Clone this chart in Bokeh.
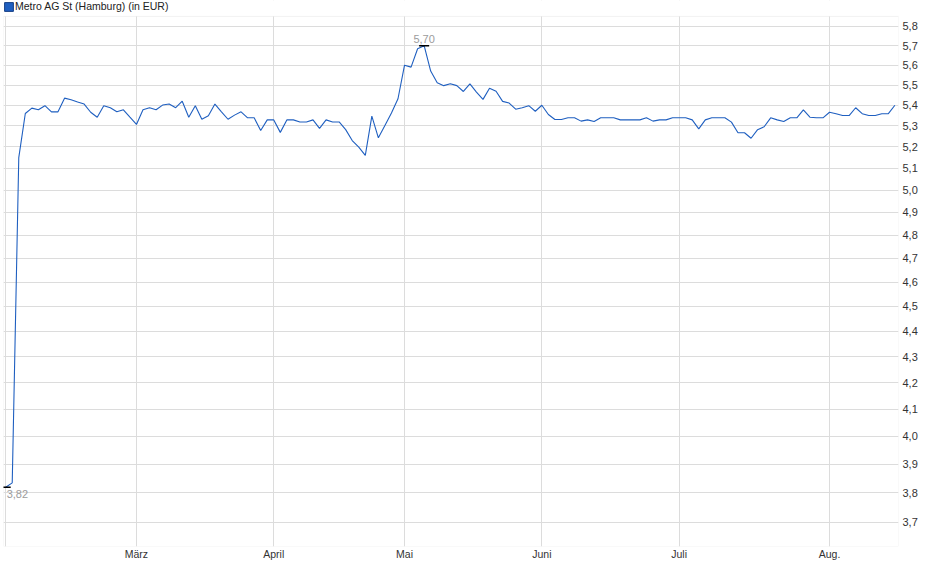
import numpy as np
from bokeh.plotting import figure
from bokeh.models import (FixedTicker, CustomJSTickFormatter, Range1d, ColumnDataSource,
                          Legend, LegendItem, BoxAnnotation)
from bokeh.embed import file_html
from bokeh.resources import INLINE
from bokeh.core.properties import value

# ---- data (trading-day index 0 = first day shown) ----
series_name = "Metro AG St (Hamburg) (in EUR)"
prices = [
    3.82, 3.835, 5.15, 5.36, 5.386, 5.378, 5.398, 5.368, 5.368, 5.435,
    5.427, 5.416, 5.406, 5.366, 5.342, 5.398, 5.388, 5.368, 5.378, 5.342,
    5.307, 5.378, 5.388, 5.378, 5.401, 5.406, 5.388, 5.42, 5.342, 5.398,
    5.332, 5.349, 5.406, 5.368, 5.332, 5.352, 5.368, 5.339, 5.339, 5.278,
    5.329, 5.329, 5.269, 5.329, 5.329, 5.319, 5.319, 5.329, 5.288, 5.329,
    5.319, 5.319, 5.282, 5.23, 5.199, 5.16, 5.347, 5.243, 5.302, 5.362,
    5.432, 5.60, 5.59, 5.684, 5.70, 5.57, 5.511, 5.497, 5.506, 5.497,
    5.468, 5.506, 5.465, 5.429, 5.484, 5.469, 5.419, 5.411, 5.381, 5.388,
    5.398, 5.371, 5.40, 5.355, 5.331, 5.331, 5.339, 5.339, 5.323, 5.329,
    5.321, 5.339, 5.339, 5.339, 5.329, 5.329, 5.329, 5.329, 5.339, 5.323,
    5.329, 5.329, 5.339, 5.339, 5.339, 5.329, 5.286, 5.329, 5.339, 5.339,
    5.339, 5.318, 5.267, 5.267, 5.241, 5.282, 5.296, 5.339, 5.329, 5.321,
    5.339, 5.339, 5.378, 5.342, 5.339, 5.339, 5.366, 5.359, 5.35, 5.35,
    5.388, 5.359, 5.35, 5.35, 5.359, 5.359, 5.40,
]
month_labels = ["März", "April", "Mai", "Juni", "Juli", "Aug."]
month_start_index = [20, 41, 61, 82, 103, 126]
y_tick_values = [3.7, 3.8, 3.9, 4.0, 4.1, 4.2, 4.3, 4.4, 4.5, 4.6, 4.7,
                 4.8, 4.9, 5.0, 5.1, 5.2, 5.3, 5.4, 5.5, 5.6, 5.7, 5.8]

idx = list(range(len(prices)))
src = ColumnDataSource(dict(x=idx, y=prices))

FONT = "Liberation Sans"
LINE_COLOR = "#1f5fc0"
GRID = "#dcdcdc"
BORDER = "#d4d4d4"

Y_BOTTOM, Y_TOP = 3.620, 5.938     # whole frame (legend strip on top)
Y_PLOT_TOP = 5.853                 # visible top edge of plotting area

p = figure(width=924, height=563, output_backend="svg", toolbar_location=None,
           y_axis_type="log", y_axis_location="right",
           x_range=Range1d(-0.336, 136.55), y_range=Range1d(Y_BOTTOM, Y_TOP),
           min_border_left=3, min_border_top=0, min_border_right=26,
           min_border_bottom=17, background_fill_color="white",
           border_fill_color="white")
p.outline_line_color = None

# axes
yax = p.yaxis[0]
yax.ticker = FixedTicker(ticks=y_tick_values)
yax.formatter = CustomJSTickFormatter(code="return tick.toFixed(1).replace('.', ',');")
yax.axis_line_color = None
yax.major_tick_line_color = None
yax.minor_tick_line_color = None
yax.major_tick_out = 0
yax.major_tick_in = 0
yax.minor_tick_out = 0
yax.major_label_standoff = 4
yax.major_label_text_font = FONT
yax.major_label_text_font_size = "11px"
yax.major_label_text_color = "#333333"

xax = p.xaxis[0]
xax.ticker = FixedTicker(ticks=[0] + month_start_index)
overrides = {0: ""}
for i, lab in zip(month_start_index, month_labels):
    overrides[i] = lab
xax.major_label_overrides = overrides
xax.axis_line_color = None
xax.major_tick_line_color = None
xax.minor_tick_line_color = None
xax.major_tick_out = 0
xax.major_tick_in = 0
xax.minor_tick_out = 0
xax.major_label_standoff = 1
xax.major_label_text_font = FONT
xax.major_label_text_font_size = "10.5px"
xax.major_label_text_color = "#333333"

p.xgrid.ticker = FixedTicker(ticks=[0] + month_start_index)
p.ygrid.ticker = FixedTicker(ticks=y_tick_values)
p.grid.grid_line_color = GRID
p.grid.grid_line_width = 1

# white strip above the plotting area (hides grid there) + plotting-area border
p.add_layout(BoxAnnotation(bottom=Y_PLOT_TOP, fill_color="white", fill_alpha=1,
                           line_color=None, level="underlay"))
p.add_layout(BoxAnnotation(top=Y_PLOT_TOP, fill_alpha=0, line_color=BORDER,
                           line_width=1, level="underlay"))

# series
p.line("x", "y", source=src, line_color=LINE_COLOR, line_width=1.1)

# min / max markers
imin = int(np.argmin(prices))
imax = int(np.argmax(prices))
fmt = lambda v: f"{v:.2f}".replace(".", ",")
p.scatter([imin, imax], [prices[imin], prices[imax]], marker="dash", size=10,
          line_color="black", line_width=1.5)
p.text([imin], [prices[imin]], text=[fmt(prices[imin])], text_align="left",
       text_baseline="top", y_offset=3, x_offset=1, text_font=value(FONT),
       text_font_size="11px", text_color="#9c9c9c")
p.text([imax], [prices[imax]], text=[fmt(prices[imax])], text_align="center",
       text_baseline="bottom", y_offset=-3, text_font=value(FONT),
       text_font_size="11px", text_color="#9c9c9c")

# legend with a square swatch
sw = p.quad(left=[np.nan], right=[np.nan], top=[np.nan], bottom=[np.nan],
            fill_color=LINE_COLOR, line_color="#163f85")
legend = Legend(items=[LegendItem(label=series_name, renderers=[sw])],
                location="top_left", orientation="horizontal", padding=0,
                margin=0, spacing=0, border_line_color=None,
                background_fill_alpha=0, label_text_font=FONT,
                label_text_font_size="10.5px", label_text_color="#222222",
                glyph_width=11, glyph_height=11, label_height=11,
                label_standoff=1)
p.add_layout(legend, "center")

open("out.html", "w").write(file_html(p, INLINE))
